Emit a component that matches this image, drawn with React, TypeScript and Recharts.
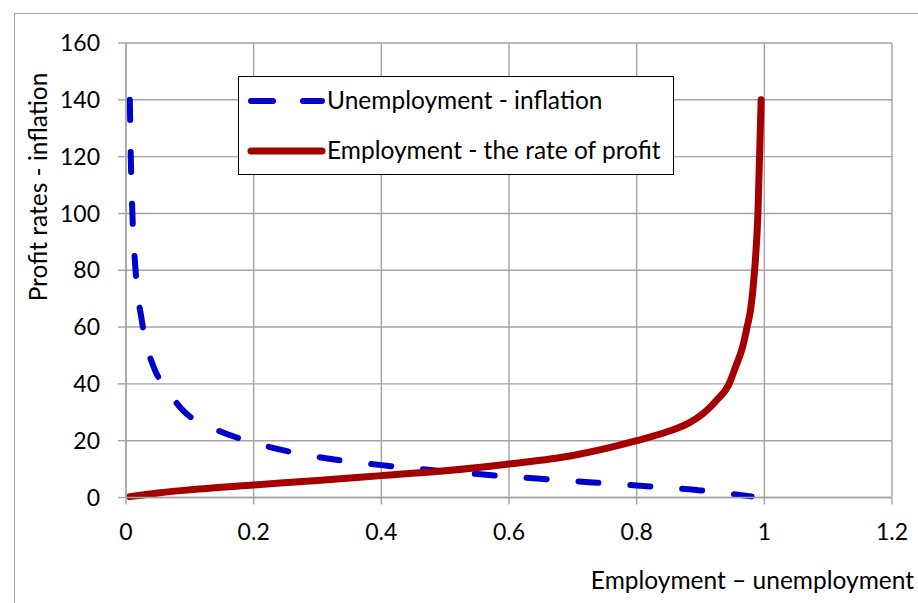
import { LineChart, Line, XAxis, YAxis, CartesianGrid, Legend, Label } from "recharts";

const xTicks = [0, 0.2, 0.4, 0.6, 0.8, 1, 1.2];
const yTicks = [0, 20, 40, 60, 80, 100, 120, 140, 160];

// Unemployment - inflation (dashed blue)
const unempX = [0.006, 0.0075, 0.01, 0.015, 0.025, 0.045, 0.06, 0.09, 0.14, 0.2, 0.3, 0.4, 0.5, 0.6, 0.7, 0.8, 0.9, 0.98];
const unempY = [140, 120, 100, 80, 62, 45, 39.4, 30.5, 24, 19.3, 14.3, 11.4, 9.2, 7.4, 5.8, 4.2, 2.5, 0.4];

// Employment - the rate of profit (solid red)
const emplX = [0.006, 0.05, 0.1, 0.2, 0.3, 0.4, 0.5, 0.6, 0.7, 0.8, 0.85, 0.88, 0.905, 0.926, 0.944, 0.955, 0.966, 0.973, 0.979, 0.984, 0.99, 0.995];
const emplY = [0.3, 1.6, 2.7, 4.4, 6.0, 7.7, 9.4, 11.8, 14.8, 20, 23.3, 26, 29.7, 34.4, 39.6, 46, 53, 60, 67, 78, 100, 140];

const seriesNames = ["Unemployment - inflation", "Employment - the rate of profit"];

const BLUE = "#0000CC";
const RED = "#A50000";
const GRID = "#a3a3a3";
const FONT = "Lato, 'Open Sans', sans-serif";
const TEXT_SIZE = 24.5;
const TICK_SIZE = 23;

const unempData = unempX.map((x, i) => ({ x, y: unempY[i] }));
const emplData = emplX.map((x, i) => ({ x, y: emplY[i] }));

function LegendBox() {
  return (
    <div
      style={{
        width: 434,
        height: 97,
        border: "1.5px solid #000",
        background: "#fff",
        fontFamily: FONT,
        fontSize: TEXT_SIZE,
        color: "#000",
        position: "relative",
      }}
    >
      <svg width={90} height={97} style={{ position: "absolute", left: 0, top: 0 }}>
        <line x1={12} y1={24} x2={83} y2={24} stroke={BLUE} strokeWidth={6} strokeLinecap="round" strokeDasharray="22 30" />
        <line x1={12} y1={74} x2={83} y2={74} stroke={RED} strokeWidth={7} strokeLinecap="round" />
      </svg>
      <div style={{ position: "absolute", left: 88, top: 8, lineHeight: "30px" }}>{seriesNames[0]}</div>
      <div style={{ position: "absolute", left: 88, top: 58, lineHeight: "30px" }}>{seriesNames[1]}</div>
    </div>
  );
}

export default function App() {
  return (
    <div style={{ position: "absolute", left: 0, top: 0, width: 918, height: 603, overflow: "hidden", background: "#fff" }}>
      <div
        style={{
          position: "absolute",
          left: 14,
          top: 13,
          width: 940,
          height: 640,
          borderLeft: "1.5px solid #a6a6a6",
          borderTop: "1.5px solid #a6a6a6",
        }}
      />
      <LineChart
        width={918}
        height={603}
        margin={{ top: 43, right: 26, bottom: 45.5, left: 66 }}
        style={{ position: "absolute", left: 0, top: 0, fontFamily: FONT }}
      >
        <CartesianGrid stroke={GRID} strokeWidth={1.4} />
        <XAxis
          dataKey="x"
          type="number"
          domain={[0, 1.2]}
          ticks={xTicks}
          height={60}
          tickSize={7}
          tickMargin={19}
          stroke={GRID}
          strokeWidth={1.4}
          tick={{ fill: "#000", fontSize: TICK_SIZE }}
          tickFormatter={(v) => `${v}`}
        >
          <Label
            content={() => (
              <text x={914} y={589} textAnchor="end" fontSize={TEXT_SIZE} fill="#000" fontFamily={FONT}>
                Employment – unemployment
              </text>
            )}
          />
        </XAxis>
        <YAxis
          type="number"
          domain={[0, 160]}
          ticks={yTicks}
          width={60}
          tickSize={8}
          tickMargin={18}
          stroke={GRID}
          strokeWidth={1.4}
          tick={{ fill: "#000", fontSize: TICK_SIZE }}
        >
          <Label
            content={() => (
              <text
                x={47}
                y={187}
                textAnchor="middle"
                fontSize={TEXT_SIZE}
                fill="#000"
                fontFamily={FONT}
                transform="rotate(-90 47 187)"
              >
                Profit rates - inflation
              </text>
            )}
          />
        </YAxis>
        <Legend
          layout="vertical"
          verticalAlign="middle"
          align="center"
          wrapperStyle={{ left: 238, top: 76, width: 437, height: 100 }}
          content={() => <LegendBox />}
        />
        <Line
          data={unempData}
          dataKey="y"
          name={seriesNames[0]}
          type="monotone"
          stroke={BLUE}
          strokeWidth={6}
          strokeDasharray="20 32"
          strokeLinecap="round"
          dot={false}
          activeDot={false}
          isAnimationActive={false}
        />
        <Line
          data={emplData}
          dataKey="y"
          name={seriesNames[1]}
          type="monotone"
          stroke={RED}
          strokeWidth={7}
          strokeLinecap="round"
          dot={false}
          activeDot={false}
          isAnimationActive={false}
        />
      </LineChart>
    </div>
  );
}
